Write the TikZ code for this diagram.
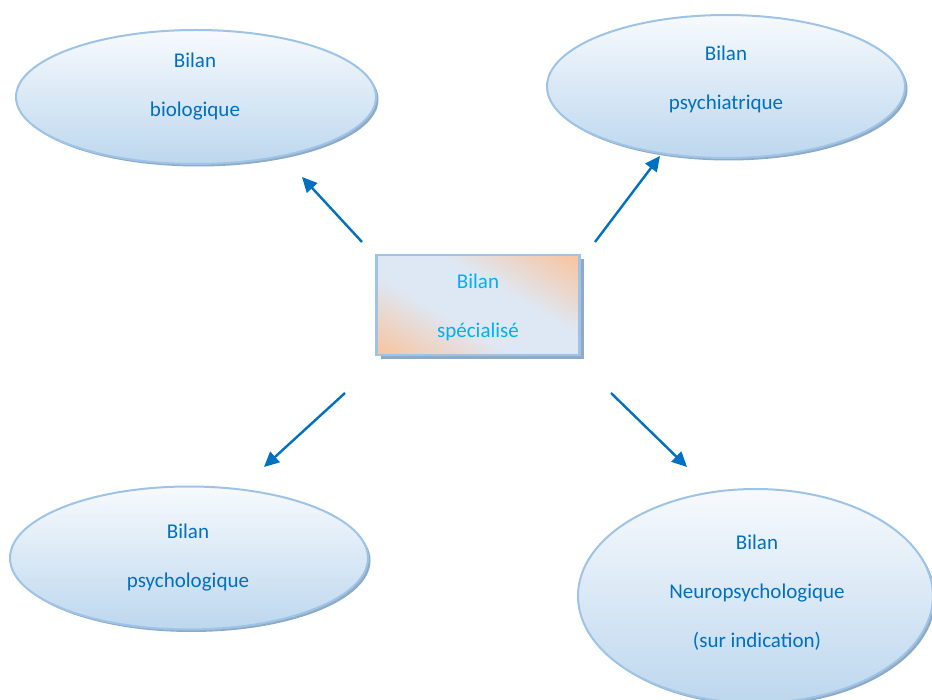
\documentclass[tikz,border=0pt]{standalone}
\usepackage{fontspec}
\setmainfont{Carlito}
\usetikzlibrary{shapes.geometric,shadows,arrows.meta}
\definecolor{txtblue}{HTML}{0070C0}
\definecolor{txtcyan}{HTML}{00B0F0}
\definecolor{edgec}{HTML}{9DC3E6}
\definecolor{topc}{HTML}{F7FAFD}
\definecolor{botc}{HTML}{BDD7EE}
\definecolor{orng}{HTML}{F7C6A4}
\definecolor{lblu}{HTML}{DEE8F4}
\definecolor{shad}{HTML}{8FAAC4}
\pgfdeclarehorizontalshading{rectsh}{100bp}{color(0bp)=(orng); color(18bp)=(orng); color(41bp)=(lblu); color(59bp)=(lblu); color(82bp)=(orng); color(100bp)=(orng)}
\begin{document}
\begin{tikzpicture}[x=1pt,y=-1pt,
  bub/.style={ellipse, draw=edgec, line width=2pt, top color=topc, bottom color=botc, inner sep=0pt,
    drop shadow={shadow xshift=2.5pt, shadow yshift=-2.5pt, fill=shad, opacity=1}},
  boxn/.style={rectangle, draw=edgec, line width=2.5pt, shading=rectsh, shading angle=60, inner sep=0pt,
    drop shadow={shadow xshift=4pt, shadow yshift=-4pt, fill=shad, opacity=1}},
  lbl/.style={text=txtblue, font=\fontsize{21}{49}\selectfont, align=center},
  arr/.style={draw=txtblue, line width=2.4pt, -{Triangle[length=15pt,width=14pt]}}]
\useasboundingbox (0,0) rectangle (932,700);

\node[bub, minimum width=360pt, minimum height=134pt] (bio) at (196,97) {};
\node[bub, minimum width=358pt, minimum height=143pt] (psyc) at (726,86.5) {};
\node[bub, minimum width=358pt, minimum height=143pt] (psyl) at (189,558) {};
\node[bub, minimum width=355pt, minimum height=214pt] (neuro) at (755.5,596) {};
\node[boxn, minimum width=203pt, minimum height=100pt] (spec) at (478,305) {};

\node[lbl] (tbio) at (195,87) {Bilan\\biologique};
\node[lbl] (tpsyc) at (726,79.5) {Bilan\\psychiatrique};
\node[lbl] (tpsyl) at (188,558) {Bilan\\psychologique};
\node[lbl] (tneuro) at (757,593) {Bilan\\Neuropsychologique\\(sur indication)};
\node[lbl, text=txtcyan] (tspec) at (478,307) {Bilan\\spécialisé};

\coordinate (s1) at (362,242); \coordinate (e1) at (302,177);
\coordinate (s2) at (595,242); \coordinate (e2) at (660,156);
\coordinate (s3) at (345,393); \coordinate (e3) at (264,467);
\coordinate (s4) at (611,393); \coordinate (e4) at (687,467);
\draw[arr] (s1) -- (e1);
\draw[arr] (s2) -- (e2);
\draw[arr] (s3) -- (e3);
\draw[arr] (s4) -- (e4);
\end{tikzpicture}
\end{document}
